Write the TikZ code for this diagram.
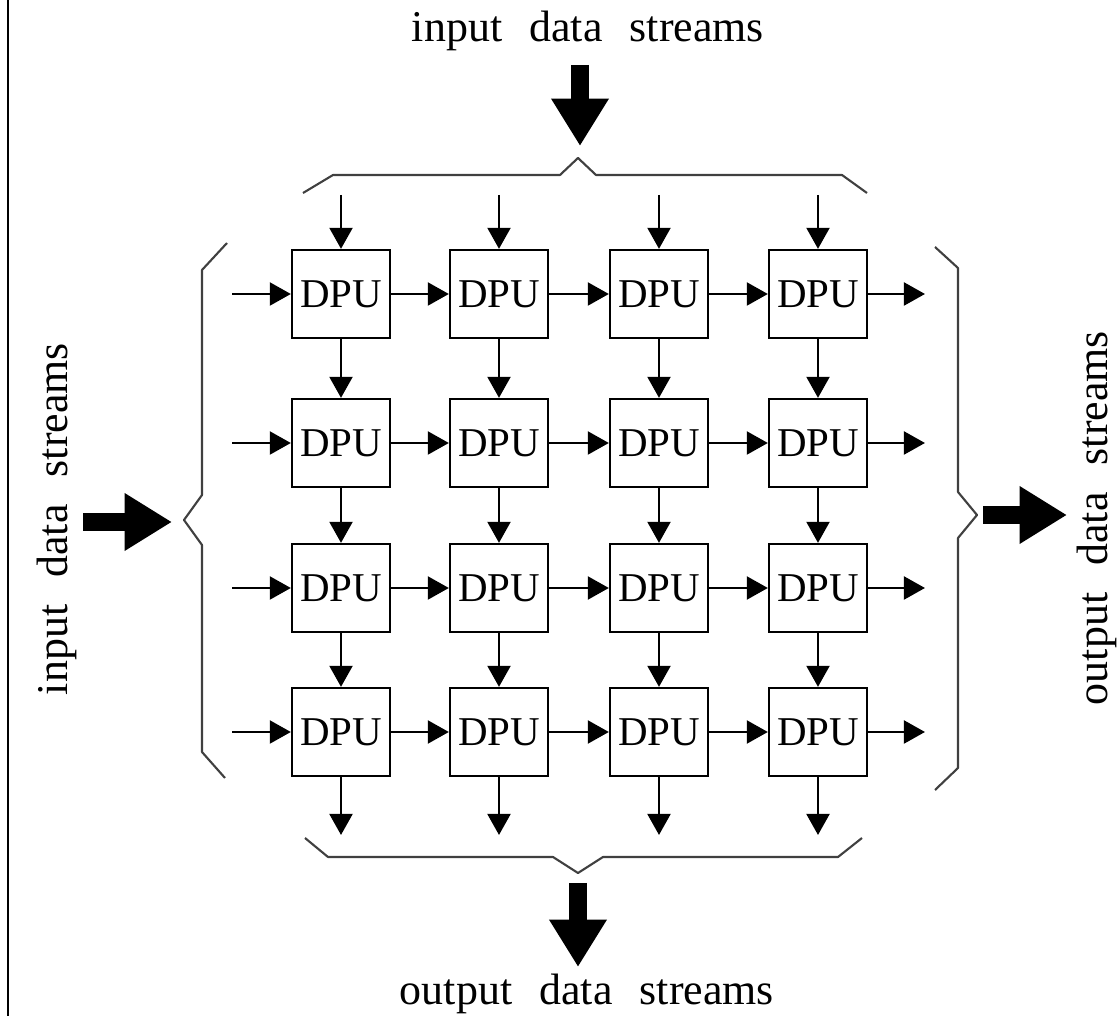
\documentclass[tikz,border=0pt]{standalone}
\usepackage{fontspec}
\setmainfont{Liberation Serif}
\usetikzlibrary{arrows.meta}
\tikzset{
  dpu/.style={draw, line width=1.3pt, minimum width=1.96cm, minimum height=1.76cm, inner sep=0pt, font=\fontsize{23.3}{28}\selectfont},
  flow/.style={line width=1.6pt, -{Triangle[length=12pt,width=13pt]}},
  bigflow/.style={line width=10.5pt, -{Triangle[length=27pt,width=31pt]}},
  brace/.style={line width=1.2pt, black!75, line join=round},
  streamlabel/.style={anchor=base, inner sep=0pt, font={\fontsize{25}{30}\selectfont\spaceskip=0.62em\relax}}
}
\begin{document}
\begin{tikzpicture}[x=0.02cm, y=-0.02cm]%[every node/.style={draw}]
\useasboundingbox (0,0) rectangle (1117,1016);
\draw[line width=1.4pt] (8,0) -- (8,1016);
\node (d11) [dpu] at (341,294) {DPU};
\node (d12) [dpu] at (499,294) {DPU};
\node (d13) [dpu] at (659,294) {DPU};
\node (d14) [dpu] at (818,294) {DPU};
\node (d21) [dpu] at (341,443) {DPU};
\node (d22) [dpu] at (499,443) {DPU};
\node (d23) [dpu] at (659,443) {DPU};
\node (d24) [dpu] at (818,443) {DPU};
\node (d31) [dpu] at (341,588) {DPU};
\node (d32) [dpu] at (499,588) {DPU};
\node (d33) [dpu] at (659,588) {DPU};
\node (d34) [dpu] at (818,588) {DPU};
\node (d41) [dpu] at (341,732) {DPU};
\node (d42) [dpu] at (499,732) {DPU};
\node (d43) [dpu] at (659,732) {DPU};
\node (d44) [dpu] at (818,732) {DPU};
% free ends of the small arrows
\coordinate (t1) at (341,195);
\coordinate (t2) at (499,195);
\coordinate (t3) at (659,195);
\coordinate (t4) at (818,195);
\coordinate (l1) at (232,294);
\coordinate (l2) at (232,443);
\coordinate (l3) at (232,588);
\coordinate (l4) at (232,732);
\coordinate (r1) at (925,294);
\coordinate (r2) at (925,443);
\coordinate (r3) at (925,588);
\coordinate (r4) at (925,732);
\coordinate (b1) at (341,835);
\coordinate (b2) at (499,835);
\coordinate (b3) at (659,835);
\coordinate (b4) at (818,835);
\path[flow] (t1) edge (d11) (t2) edge (d12) (t3) edge (d13) (t4) edge (d14);
\path[flow] (l1) edge (d11) (l2) edge (d21) (l3) edge (d31) (l4) edge (d41);
\path[flow] (d14) edge (r1) (d24) edge (r2) (d34) edge (r3) (d44) edge (r4);
\path[flow] (d41) edge (b1) (d42) edge (b2) (d43) edge (b3) (d44) edge (b4);
\path[flow] (d11) edge (d12) (d12) edge (d13) (d13) edge (d14);
\path[flow] (d21) edge (d22) (d22) edge (d23) (d23) edge (d24);
\path[flow] (d31) edge (d32) (d32) edge (d33) (d33) edge (d34);
\path[flow] (d41) edge (d42) (d42) edge (d43) (d43) edge (d44);
\path[flow] (d11) edge (d21) (d21) edge (d31) (d31) edge (d41);
\path[flow] (d12) edge (d22) (d22) edge (d32) (d32) edge (d42);
\path[flow] (d13) edge (d23) (d23) edge (d33) (d33) edge (d43);
\path[flow] (d14) edge (d24) (d24) edge (d34) (d34) edge (d44);
% braces
\draw[brace] (303,193) -- (333,175) -- (560,175) -- (578,158) -- (596,175) -- (842,175) -- (867,193);
\draw[brace] (305,838) -- (328,857) -- (553,857) -- (578,873) -- (603,857) -- (838,857) -- (862,838);
\draw[brace] (227,243) -- (202,270) -- (202,495) -- (184,520) -- (202,545) -- (202,752) -- (225,778);
\draw[brace] (935,247) -- (958,268) -- (958,492) -- (977,515) -- (958,538) -- (958,768) -- (935,790);
% labels and big arrows
\node (intop) [streamlabel] at (588,42) {input data streams};
\node (outbot) [streamlabel] at (587,1005) {output data streams};
\node (inleft) [streamlabel, rotate=90] at (68,519) {input data streams};
\node (outright) [streamlabel, rotate=90] at (1107,518) {output data streams};
\coordinate (ta) at (580,65);
\coordinate (tb) at (580,146);
\coordinate (la) at (83,522);
\coordinate (lb) at (172,522);
\coordinate (ra) at (983,515);
\coordinate (rb) at (1067,515);
\coordinate (ba) at (578,883);
\coordinate (bb) at (578,967);
\draw[bigflow] (ta) -- (tb);
\draw[bigflow] (la) -- (lb);
\draw[bigflow] (ra) -- (rb);
\draw[bigflow] (ba) -- (bb);
\end{tikzpicture}
\end{document}
